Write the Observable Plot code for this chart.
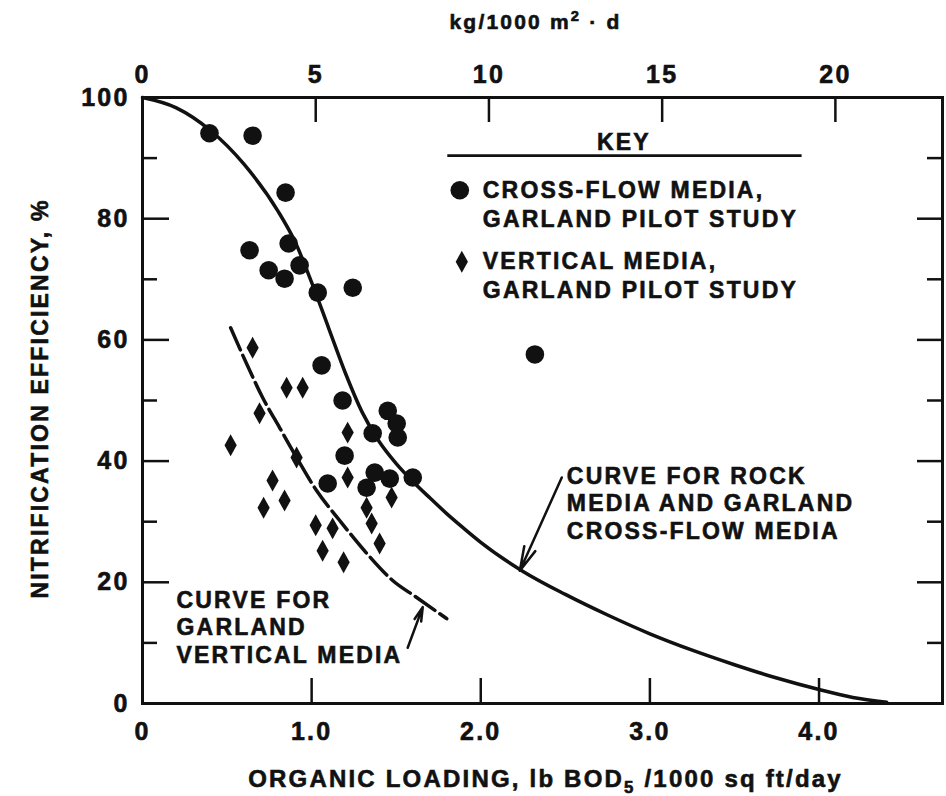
<!DOCTYPE html>
<html>
<head>
<meta charset="utf-8">
<script src="https://cdn.jsdelivr.net/npm/d3@7"></script>
<script src="https://cdn.jsdelivr.net/npm/@observablehq/plot@0.6"></script>
<style>
  html, body { margin: 0; padding: 0; background: #fff; }
  #chart svg { display: block; }
</style>
</head>
<body>
<div id="chart"></div>
<script>
// ---------- data ----------
// Cross-flow media, Garland pilot study (circles)
const crossFlowLoading    = [0.396, 0.651, 0.846, 0.633, 0.746, 0.840, 0.864, 0.929, 1.036, 1.243, 2.320, 1.059, 1.183, 1.095, 1.450, 1.503, 1.509, 1.361, 1.195, 1.325, 1.373, 1.462, 1.598];
const crossFlowEfficiency = [94.1, 93.7, 84.3, 74.8, 71.5, 70.1, 75.9, 72.3, 67.8, 68.6, 57.6, 55.8, 50.0, 36.3, 48.3, 46.2, 43.9, 44.6, 40.9, 35.6, 38.1, 37.1, 37.3];

// Vertical media, Garland pilot study (diamonds)
const verticalLoading    = [0.651, 0.852, 0.947, 0.692, 0.521, 0.911, 0.769, 0.716, 0.840, 1.024, 1.124, 1.065, 1.189, 1.213, 1.213, 1.325, 1.355, 1.402, 1.473];
const verticalEfficiency = [58.7, 52.1, 52.1, 47.9, 42.6, 40.6, 36.8, 32.3, 33.5, 29.4, 28.9, 25.2, 23.3, 44.7, 37.3, 32.3, 29.7, 26.4, 34.0];

// Curve for rock media and Garland cross-flow media (solid)
const rockCurveLoading    = [0, 0.2, 0.4, 0.6, 0.8, 0.9, 1.0, 1.1, 1.2, 1.3, 1.4, 1.5, 1.6, 1.7, 1.8, 1.9, 2.0, 2.25, 2.5, 2.75, 3.0, 3.25, 3.5, 3.75, 4.0, 4.2, 4.4];
const rockCurveEfficiency = [100, 98.3, 94.6, 89.0, 81.3, 76.3, 69.5, 62.0, 54.5, 48.0, 43.2, 39.6, 36.6, 33.9, 31.3, 28.9, 26.6, 21.8, 18.0, 14.6, 11.5, 8.8, 6.4, 4.2, 2.3, 1.0, 0.2];

// Curve for Garland vertical media (dashed)
const garlandCurveLoading    = [0.521, 0.615, 0.710, 0.811, 0.911, 1.030, 1.166, 1.325, 1.479, 1.621, 1.799];
const garlandCurveEfficiency = [62.0, 56.1, 50.5, 45.5, 40.6, 35.1, 30.2, 24.8, 20.3, 17.5, 14.0];

// axes
const bottomTicks = [0, 1, 2, 3, 4];
const bottomTickLabels = ["0", "1.0", "2.0", "3.0", "4.0"];
const topTicksKg = [0, 5, 10, 15, 20];
const topTickLabels = ["0", "5", "10", "15", "20"];
const KG_PER_LB = 4.882; // 1 lb/1000 sq ft/d = 4.882 kg/1000 m²·d
const yTicks = [0, 20, 40, 60, 80, 100];
const yTickLabels = ["0", "20", "40", "60", "80", "100"];
const yMinorTicks = [10, 30, 50, 70, 90];

// texts
const yTitle = "NITRIFICATION EFFICIENCY, %";
const xTitleParts = ["ORGANIC LOADING, lb BOD", "5", " /1000 sq ft/day"];
const topTitleParts = ["kg/1000 m", "2", " · d"];
const keyTitle = "KEY";
const keyLabels = ["CROSS-FLOW MEDIA,\nGARLAND PILOT STUDY", "VERTICAL MEDIA,\nGARLAND PILOT STUDY"];
const curveLabels = ["CURVE FOR ROCK\nMEDIA AND GARLAND\nCROSS-FLOW MEDIA", "CURVE FOR\nGARLAND\nVERTICAL MEDIA"];

// ---------- layout of annotations (data coordinates) ----------
const keyTitlePos = {x: 2.846, y: 92.6};
const keyRulePos = {y: 90.4, x1: 1.805, x2: 3.90};
const keySymbolPos = [{x: 1.876, y: 84.7}, {x: 1.888, y: 72.9}];
const keyTextPos = [{x: 2.012, y: 82.6}, {x: 2.012, y: 70.8}];
const curveLabelPos = [{x: 2.509, y: 33.2}, {x: 0.201, y: 12.7}];
const arrowPos = [
  {x1: 2.479, y1: 37.3, x2: 2.231, y2: 21.9},
  {x1: 1.568, y1: 9.2, x2: 1.657, y2: 15.9}
];

// ---------- build tables ----------
const crossFlow = crossFlowLoading.map((x, i) => ({x, y: crossFlowEfficiency[i]}));
const vertical = verticalLoading.map((x, i) => ({x, y: verticalEfficiency[i]}));
const rockCurve = rockCurveLoading.map((x, i) => ({x, y: rockCurveEfficiency[i]}));
const garlandCurve = garlandCurveLoading.map((x, i) => ({x, y: garlandCurveEfficiency[i]}));

const ink = "#111";
const tallDiamond = {
  draw(context, size) {
    const r = Math.sqrt(size / Math.PI);
    const h = r * 1.22, w = r * 0.68;
    context.moveTo(0, -h);
    context.lineTo(w, 0);
    context.lineTo(0, h);
    context.lineTo(-w, 0);
    context.closePath();
  }
};

const W = 946, H = 796, mT = 97, mL = 142, mR = 4, mB = 93;
const innerW = W - mL - mR, innerH = H - mT - mB;

const plot = Plot.plot({
  width: W, height: H,
  marginTop: mT, marginLeft: mL, marginRight: mR, marginBottom: mB,
  x: {domain: [0, 4.73]},
  y: {domain: [0, 100]},
  style: {fontFamily: "'Liberation Sans', Arial, Helvetica, sans-serif", fontWeight: "bold", color: ink, background: "#fff", letterSpacing: "2.2px"},
  marks: [
    // axes labels
    Plot.axisX(bottomTicks, {anchor: "bottom", tickSize: 0, tickPadding: 19, fontSize: 25, label: null,
      tickFormat: d => bottomTickLabels[bottomTicks.indexOf(d)]}),
    Plot.axisX(topTicksKg.map(k => k / KG_PER_LB), {anchor: "top", tickSize: 0, tickPadding: 15, fontSize: 25, label: null,
      tickFormat: d => topTickLabels[Math.round(d * KG_PER_LB / 5)]}),
    Plot.axisY(yTicks, {anchor: "left", tickSize: 0, tickPadding: 13, fontSize: 25, label: null,
      tickFormat: d => yTickLabels[yTicks.indexOf(d)]}),
    // inward ticks
    Plot.ruleX(bottomTicks.filter(d => d > 0), {x: d => d, insetTop: innerH - 25, stroke: ink, strokeWidth: 2.5}),
    Plot.ruleX(topTicksKg.filter(k => k > 0).map(k => k / KG_PER_LB), {x: d => d, insetBottom: innerH - 25, stroke: ink, strokeWidth: 2.5}),
    Plot.ruleY(yTicks.filter(d => d > 0 && d < 100), {y: d => d, insetRight: innerW - 27, stroke: ink, strokeWidth: 2.5}),
    Plot.ruleY(yMinorTicks, {y: d => d, insetRight: innerW - 15, stroke: ink, strokeWidth: 2.5}),
    Plot.ruleY(yTicks.filter(d => d > 0 && d < 100), {y: d => d, insetLeft: innerW - 25, stroke: ink, strokeWidth: 2.5}),
    Plot.ruleY(yMinorTicks, {y: d => d, insetLeft: innerW - 15, stroke: ink, strokeWidth: 2.5}),
    Plot.frame({stroke: ink, strokeWidth: 3}),
    // curves
    Plot.line(rockCurve, {x: "x", y: "y", curve: "monotone-x", stroke: ink, strokeWidth: 3.5}),
    Plot.line(garlandCurve, {x: "x", y: "y", curve: "monotone-x", stroke: ink, strokeWidth: 3.5, strokeDasharray: "24,6"}),
    // data points
    Plot.dot(crossFlow, {x: "x", y: "y", r: 9.3, symbol: "circle", fill: ink, stroke: null}),
    Plot.dot(vertical, {x: "x", y: "y", r: 9, symbol: tallDiamond, fill: ink, stroke: null}),
    // key
    Plot.text([keyTitle], {x: keyTitlePos.x, y: keyTitlePos.y, text: d => d, fontSize: 23, fill: ink}),
    Plot.ruleY([keyRulePos], {y: "y", x1: "x1", x2: "x2", stroke: ink, strokeWidth: 2.8}),
    Plot.dot([keySymbolPos[0]], {x: "x", y: "y", r: 9.3, symbol: "circle", fill: ink, stroke: null}),
    Plot.dot([keySymbolPos[1]], {x: "x", y: "y", r: 9, symbol: tallDiamond, fill: ink, stroke: null}),
    Plot.text(keyLabels, {x: (d, i) => keyTextPos[i].x, y: (d, i) => keyTextPos[i].y, text: d => d,
      textAnchor: "start", lineAnchor: "middle", lineHeight: 1.25, fontSize: 23, fill: ink}),
    // curve annotations
    Plot.text(curveLabels, {x: (d, i) => curveLabelPos[i].x, y: (d, i) => curveLabelPos[i].y, text: d => d,
      textAnchor: "start", lineAnchor: "middle", lineHeight: 1.2, fontSize: 23, fill: ink}),
    Plot.arrow(arrowPos, {x1: "x1", y1: "y1", x2: "x2", y2: "y2", stroke: ink, strokeWidth: 2.5, headLength: 15, headAngle: 28}),
    // axis titles
    Plot.text([yTitle], {frameAnchor: "left", rotate: -90, dx: -102, dy: -2, text: d => d, textAnchor: "middle", lineAnchor: "middle", fontSize: 23, fill: ink}),
    Plot.text([xTitleParts.join("")], {frameAnchor: "bottom", dx: 3, dy: 76, text: d => d, textAnchor: "middle", lineAnchor: "middle", fontSize: 24, fill: ink}),
    Plot.text([topTitleParts.join("")], {frameAnchor: "top", dx: -7, dy: -75, text: d => d, textAnchor: "middle", lineAnchor: "middle", fontSize: 21, fill: ink})
  ]
});

// sub/superscripts
function splitScript(svgNode, parts, shift) {
  d3.select(svgNode).selectAll("text").each(function() {
    if (this.textContent === parts.join("")) {
      const t = d3.select(this);
      t.text(null);
      t.append("tspan").text(parts[0]);
      t.append("tspan").attr("dy", shift).attr("font-size", "0.7em").text(parts[1]);
      t.append("tspan").attr("dy", -shift).text(parts[2]);
    }
  });
}
splitScript(plot, xTitleParts, 6);
splitScript(plot, topTitleParts, -8);

// heavier print-like lettering
d3.select(plot).selectAll("text").attr("stroke", ink).attr("stroke-width", 0.6);

document.getElementById("chart").appendChild(plot);
</script>
</body>
</html>
